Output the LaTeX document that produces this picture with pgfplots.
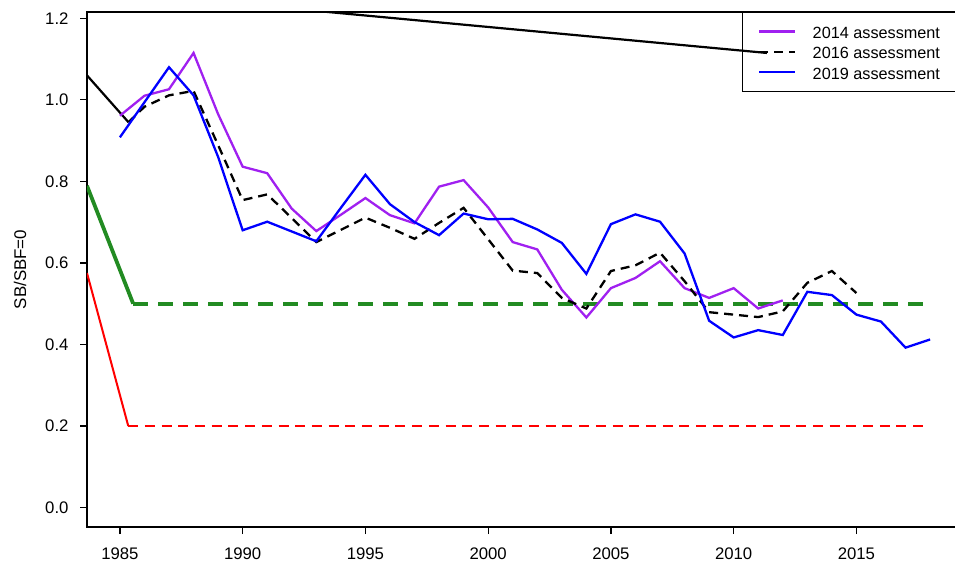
\documentclass[border=0pt]{standalone}
\usepackage{pgfplots}
\pgfplotsset{compat=1.18}
\usepackage{fontspec}
\setmainfont{Liberation Sans}
\definecolor{rpurple}{HTML}{A020F0}
\definecolor{rgreen}{HTML}{228B22}
\begin{document}
\begin{tikzpicture}
\begin{axis}[
  scale only axis,
  width=875bp, height=515bp,
  xmin=1983.66, xmax=2019.3,
  ymin=-0.048, ymax=1.2155,
  axis line style={line width=1.3bp},
  tick style={line width=1.3bp, black},
  tick align=outside,
  major tick length=7bp,
  tick pos=left,
  xtick={1985,1990,1995,2000,2005,2010,2015},
  ytick={0,0.2,0.4,0.6,0.8,1.0,1.2},
  /pgf/number format/assume math mode=true,
  xticklabel style={/pgf/number format/1000 sep={}, font=\fontsize{16.8}{19}\selectfont, yshift=-10bp},
  yticklabel style={/pgf/number format/.cd, fixed, fixed zerofill, precision=1, /tikz/.cd, font=\fontsize{16.8}{19}\selectfont, xshift=-8bp},
  ylabel={SB/SBF=0},
  ylabel style={at={(axis description cs:-0.0765,0.5)}, anchor=center, font=\fontsize{17}{19}\selectfont},
  legend cell align=left,
  legend image code/.code={\draw[#1] (0bp,0bp) -- (35.6bp,0bp);},
  legend style={at={(axis description cs:0.7489,1)}, anchor=north west, draw=black, line width=0.9bp, fill=none,
    inner xsep=15.4bp, inner ysep=10.1bp, row sep=2.4bp, column sep=16.7bp,
    nodes={inner sep=0pt, text height=16bp, text depth=2bp, font=\fontsize{16.3}{19}\selectfont}},
]
% reference lines and stray segments
\addplot[red, line width=2bp, forget plot] coordinates {(1983.66,0.575) (1985.34,0.2)};
\addplot[red, line width=2bp, dash pattern=on 10bp off 6.7bp, forget plot] coordinates {(1985.34,0.2) (2017.8,0.2)};
\addplot[rgreen, line width=3.8bp, forget plot] coordinates {(1983.66,0.789) (1985.54,0.5)};
\addplot[rgreen, line width=3.8bp, dash pattern=on 15bp off 10bp, forget plot] coordinates {(1985.54,0.5) (2017.85,0.5)};
\addplot[black, line width=2.2bp, forget plot] coordinates {(1983.66,1.06) (1985.35,0.945)};
\addplot[black, line width=2.2bp, forget plot] coordinates {(1990,1.235) (2011.35,1.115)};
% 2014 assessment
\addplot[rpurple, line width=2.3bp] coordinates {
(1985,0.961) (1986,1.010) (1987,1.026) (1988,1.115) (1989,0.965) (1990,0.836)
(1991,0.820) (1992,0.733) (1993,0.678) (1994,0.718) (1995,0.759) (1996,0.717)
(1997,0.697) (1998,0.787) (1999,0.803) (2000,0.736) (2001,0.651) (2002,0.633)
(2003,0.534) (2004,0.466) (2005,0.538) (2006,0.563) (2007,0.604) (2008,0.538)
(2009,0.514) (2010,0.538) (2011,0.488) (2012,0.508)};
\addlegendentry{2014 assessment\hspace*{40bp}}
% 2016 assessment
\addplot[black, line width=2.3bp, dash pattern=on 9bp off 6bp] coordinates {
(1985.35,0.945) (1986,0.983) (1987,1.011) (1988,1.022) (1989,0.889) (1990,0.754)
(1991,0.768) (1992,0.710) (1993,0.651) (1994,0.681) (1995,0.711) (1996,0.686)
(1997,0.659) (1998,0.698) (1999,0.735) (2000,0.658) (2001,0.581) (2002,0.575)
(2003,0.514) (2004,0.488) (2005,0.580) (2006,0.594) (2007,0.625) (2008,0.555)
(2009,0.479) (2010,0.473) (2011,0.467) (2012,0.481) (2013,0.551) (2014,0.580)
(2015,0.526)};
\addlegendentry{2016 assessment}
% 2019 assessment
\addplot[blue, line width=2.3bp] coordinates {
(1985,0.908) (1986,0.994) (1987,1.080) (1988,1.011) (1989,0.860) (1990,0.680)
(1991,0.701) (1992,0.677) (1993,0.653) (1994,0.735) (1995,0.816) (1996,0.744)
(1997,0.700) (1998,0.668) (1999,0.721) (2000,0.707) (2001,0.708) (2002,0.682)
(2003,0.649) (2004,0.573) (2005,0.695) (2006,0.719) (2007,0.701) (2008,0.623)
(2009,0.458) (2010,0.417) (2011,0.435) (2012,0.423) (2013,0.529) (2014,0.521)
(2015,0.473) (2016,0.456) (2017,0.392) (2018,0.412)};
\addlegendentry{2019 assessment}
\end{axis}
\pgfresetboundingbox
\path[use as bounding box] ([shift={(-87bp,-38bp)}]current axis.south west) rectangle ([shift={(868bp,527bp)}]current axis.south west);
\end{tikzpicture}
\end{document}
